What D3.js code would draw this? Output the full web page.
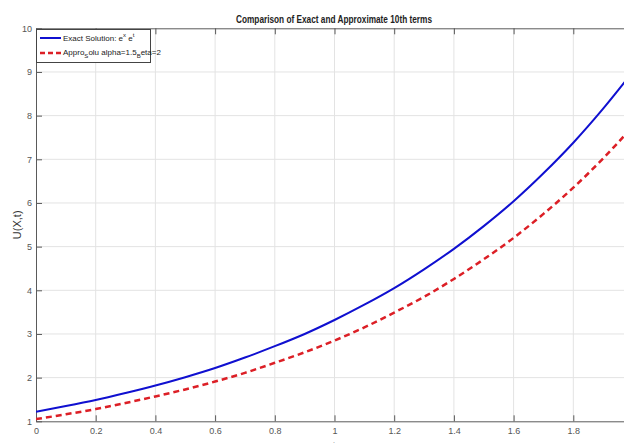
<!DOCTYPE html>
<html>
<head>
<meta charset="utf-8">
<script src="https://cdn.jsdelivr.net/npm/d3@7"></script>
<style>
  body { margin: 0; background: #fff; }
  text { font-family: "Liberation Sans Narrow", "Liberation Sans", Arial, sans-serif; }
</style>
</head>
<body>
<svg id="chart"></svg>
<script>
// chart size (the right side of the plot runs past the picture edge)
const width = 624, height = 443;
const margin = { top: 28.3, left: 36, bottom: 21.7 };

// values, every 0.1 along x
const xs = [0, 0.1, 0.2, 0.3, 0.4, 0.5, 0.6, 0.7, 0.8, 0.9, 1.0,
            1.1, 1.2, 1.3, 1.4, 1.5, 1.6, 1.7, 1.8, 1.9, 2.0];
const exactVals = [1.22, 1.35, 1.49, 1.65, 1.82, 2.01, 2.22, 2.46, 2.72, 3.00, 3.32,
                   3.67, 4.05, 4.48, 4.95, 5.47, 6.04, 6.68, 7.38, 8.16, 9.01];
const approxVals = [1.05, 1.16, 1.28, 1.42, 1.57, 1.73, 1.91, 2.11, 2.34, 2.58, 2.85,
                    3.15, 3.49, 3.85, 4.26, 4.71, 5.20, 5.75, 6.35, 7.02, 7.76];
const xTicks = [0, 0.2, 0.4, 0.6, 0.8, 1, 1.2, 1.4, 1.6, 1.8];
const yTicks = [1, 2, 3, 4, 5, 6, 7, 8, 9, 10];

const svg = d3.select("#chart").attr("width", width).attr("height", height);

const x = d3.scaleLinear().domain([0, 2]).range([margin.left, 633]);
const y = d3.scaleLinear().domain([1, 10]).range([height - margin.bottom, margin.top]);

//grid lines
svg.append("g").selectAll("line").data(xTicks.slice(1)).join("line")
  .attr("x1", d => x(d)).attr("x2", d => x(d))
  .attr("y1", y(10)).attr("y2", y(1))
  .attr("stroke", "#e3e3e3").attr("stroke-width", 1);
svg.append("g").selectAll("line").data(yTicks.slice(1, -1)).join("line")
  .attr("x1", x(0)).attr("x2", width)
  .attr("y1", d => y(d)).attr("y2", d => y(d))
  .attr("stroke", "#e3e3e3").attr("stroke-width", 1);

// axes (MATLAB style: ticks pointing inside, box on top)
const axisColor = "#5a5a5a";
function styleAxis(g) {
  g.select(".domain").attr("stroke", axisColor);
  g.selectAll(".tick line").attr("stroke", axisColor);
  g.selectAll(".tick text").attr("fill", "#555").attr("font-size", "9px");
}
svg.append("g")
  .attr("transform", `translate(0,${y(1)})`)
  .call(d3.axisBottom(x).tickValues(xTicks).tickFormat(d3.format("")).tickSizeInner(-6).tickSizeOuter(0).tickPadding(6))
  .call(styleAxis);
svg.append("g")
  .attr("transform", `translate(0,${y(10)})`)
  .call(d3.axisTop(x).tickValues(xTicks).tickFormat("").tickSizeInner(-6).tickSizeOuter(0))
  .call(styleAxis);
svg.append("g")
  .attr("transform", `translate(${x(0)},0)`)
  .call(d3.axisLeft(y).tickValues(yTicks).tickFormat(d3.format("d")).tickSizeInner(-6).tickSizeOuter(0).tickPadding(4))
  .call(styleAxis);

// curves
const line = d3.line().x((d, i) => x(xs[i])).y(d => y(d)).curve(d3.curveMonotoneX);
svg.append("clipPath").attr("id", "clip").append("rect")
  .attr("x", x(0)).attr("y", y(10)).attr("width", width).attr("height", y(1) - y(10));

svg.append("path").datum(approxVals)
  .attr("clip-path", "url(#clip)")
  .attr("fill", "none").attr("stroke", "#dc1f26").attr("stroke-width", 2.5)
  .attr("stroke-dasharray", "6,4")
  .attr("d", line);
svg.append("path").datum(exactVals)
  .attr("clip-path", "url(#clip)")
  .attr("fill", "none").attr("stroke", "#1010d0").attr("stroke-width", 2)
  .attr("d", line);

// title and axis labels
svg.append("text")
  .attr("x", 334).attr("y", 23)
  .attr("text-anchor", "middle").attr("font-size", "11px").attr("font-weight", "bold")
  .attr("textLength", 196).attr("lengthAdjust", "spacingAndGlyphs")
  .attr("fill", "#222")
  .text("Comparison of Exact and Approximate 10th terms");

svg.append("text")
  .attr("transform", `translate(21,${(y(1) + y(10)) / 2}) rotate(-90)`)
  .attr("text-anchor", "middle").attr("font-size", "11px").attr("fill", "#333")
  .text("U(X,t)");

svg.append("text")
  .attr("x", 334).attr("y", 450)
  .attr("text-anchor", "middle").attr("font-size", "11px").attr("fill", "#333")
  .text("t");

// legend
const legend = svg.append("g");
legend.append("rect")
  .attr("x", 36.5).attr("y", 29.5).attr("width", 114).attr("height", 33)
  .attr("fill", "#fff").attr("stroke", "#444").attr("stroke-width", 1);
legend.append("line")
  .attr("x1", 40).attr("x2", 61).attr("y1", 38).attr("y2", 38)
  .attr("stroke", "#1010d0").attr("stroke-width", 2);
legend.append("line")
  .attr("x1", 40).attr("x2", 61).attr("y1", 53).attr("y2", 53)
  .attr("stroke", "#dc1f26").attr("stroke-width", 2.5).attr("stroke-dasharray", "5,3");

const t1 = legend.append("text").attr("x", 63).attr("y", 41).attr("font-size", "8px").attr("fill", "#222");
t1.append("tspan").text("Exact Solution: e");
t1.append("tspan").attr("dy", -4).attr("font-size", "6px").text("x");
t1.append("tspan").attr("dy", 4).text(" e");
t1.append("tspan").attr("dy", -4).attr("font-size", "6px").text("t");

const t2 = legend.append("text").attr("x", 63).attr("y", 55).attr("font-size", "8px").attr("fill", "#222");
t2.append("tspan").text("Appro");
t2.append("tspan").attr("dy", 3).attr("font-size", "6px").text("S");
t2.append("tspan").attr("dy", -3).text("olu alpha=1.5");
t2.append("tspan").attr("dy", 3).attr("font-size", "6px").text("B");
t2.append("tspan").attr("dy", -3).text("eta=2");
</script>
</body>
</html>
